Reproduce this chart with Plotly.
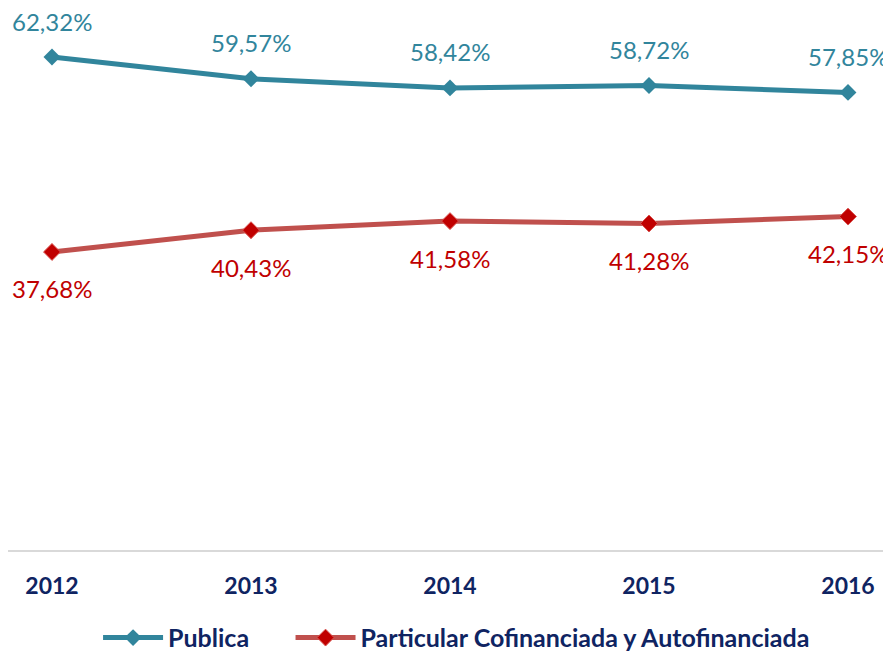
import plotly.graph_objects as go

years = [2012, 2013, 2014, 2015, 2016]
publica = [62.32, 59.57, 58.42, 58.72, 57.85]
particular = [37.68, 40.43, 41.58, 41.28, 42.15]
series_names = ["Publica", "Particular Cofinanciada y Autofinanciada"]

teal = "#31859C"
red_line = "#C0504D"
red_dark = "#C00000"
navy = "#0F2462"
font_family = "Lato, 'Open Sans', sans-serif"


def fmt(v):
    return "{:.2f}%".format(v).replace(".", ",")


fig = go.Figure()
fig.add_trace(go.Scatter(
    x=years, y=publica, mode="lines+markers",
    # trailing no-break spaces widen the gap between the two legend entries
    name=series_names[0] + "\u00a0" * 6,
    line=dict(color=teal, width=5),
    marker=dict(symbol="diamond", size=13, color=teal),
))
fig.add_trace(go.Scatter(
    x=years, y=particular, name=series_names[1], mode="lines+markers",
    line=dict(color=red_line, width=5),
    marker=dict(symbol="diamond", size=13, color=red_dark,
                line=dict(color="#D9534F", width=1)),
))

for x, y in zip(years, publica):
    fig.add_annotation(x=x, y=y, text=fmt(y), showarrow=False,
                       yanchor="middle", yshift=36,
                       font=dict(family=font_family, size=24, color=teal))
for x, y in zip(years, particular):
    fig.add_annotation(x=x, y=y, text=fmt(y), showarrow=False,
                       yanchor="middle", yshift=-37,
                       font=dict(family=font_family, size=24, color=red_dark))

# the page body has an 8px margin, so the figure is drawn 8px smaller
fig.update_xaxes(
    range=[2011.779, 2016.216], tickvals=years,
    ticktext=["<b>%d</b>" % y for y in years],
    tickfont=dict(family=font_family, size=23, color=navy),
    showgrid=False, zeroline=False, showline=True, automargin=False,
    linecolor="#D9D9D9", linewidth=2, ticklabelstandoff=14,
)
fig.update_yaxes(range=[0, 68.52], visible=False, showgrid=False, automargin=False)

fig.update_layout(
    width=883, height=644,
    margin=dict(l=0, r=0, t=0, b=102),
    plot_bgcolor="white", paper_bgcolor="white",
    showlegend=True,
    legend=dict(orientation="h", x=0.508, xanchor="center",
                yref="container", y=0.022, yanchor="middle",
                font=dict(family=font_family, size=25, color=navy, weight="bold"),
                itemwidth=60),
)

fig.write_html("out.html")
